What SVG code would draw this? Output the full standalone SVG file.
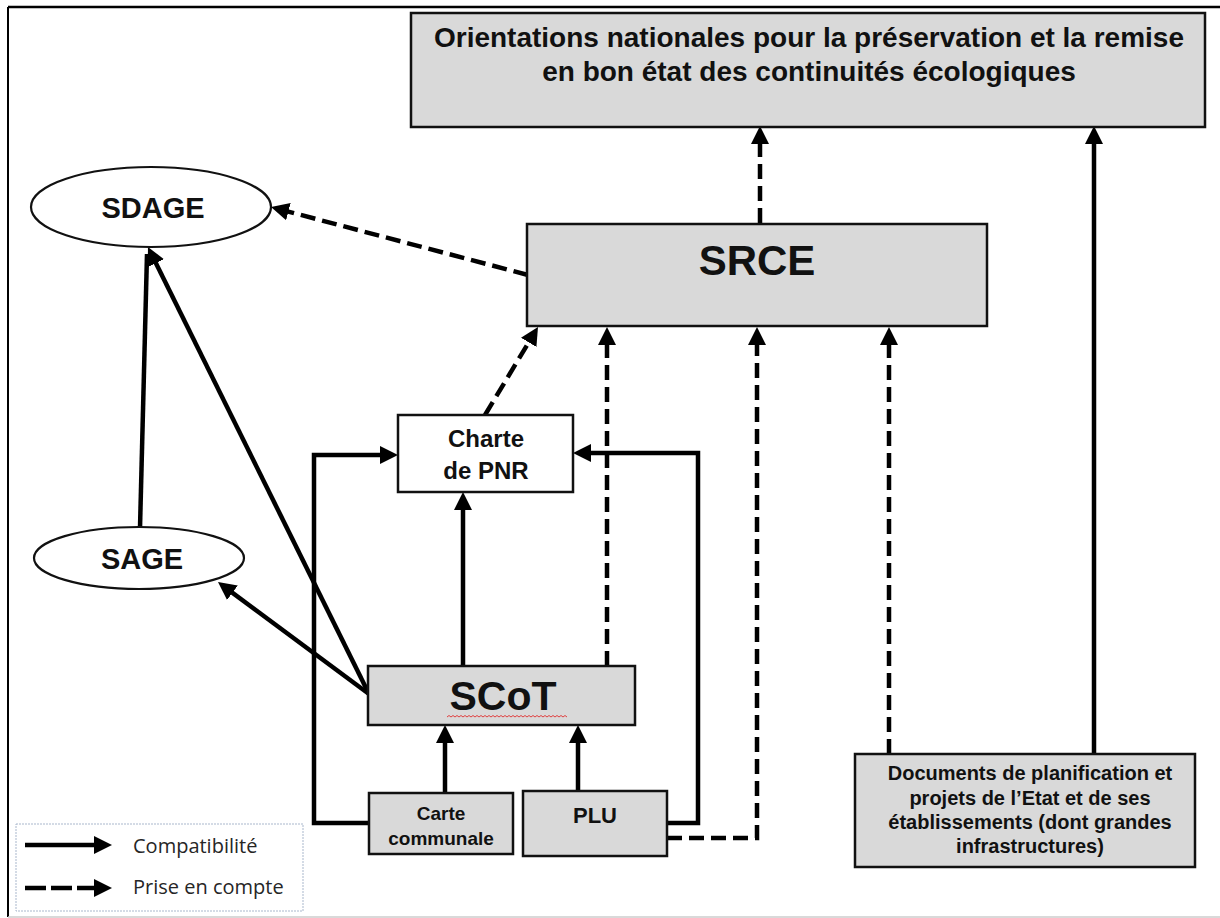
<svg xmlns="http://www.w3.org/2000/svg" width="1220" height="918" viewBox="0 0 1220 918">
<style>
.box{fill:#d9d9d9;stroke:#111;stroke-width:2.5}
.wbox{fill:#fff;stroke:#111;stroke-width:2.5}
.ell{fill:#fff;stroke:#111;stroke-width:2.2}
.t{font-family:"Liberation Sans",Arial,sans-serif;font-weight:bold;fill:#111;text-anchor:middle}
.leg{font-family:"Open Sans","Liberation Sans",sans-serif;font-size:20px;fill:#262626}
.solid{fill:none;stroke:#000;stroke-width:4.5;marker-end:url(#ah)}
.dash{fill:none;stroke:#000;stroke-width:4.5;stroke-dasharray:15 7;marker-end:url(#ah)}
.plain{fill:none;stroke:#000;stroke-width:4.5}
</style>
<defs>
<marker id="ah" markerUnits="userSpaceOnUse" markerWidth="20" markerHeight="20" viewBox="0 0 20 20" refX="12" refY="10" orient="auto">
<path d="M0,1 L18,10 L0,19 z" fill="#000"/>
</marker>
</defs>
<rect width="1220" height="918" fill="#fff"/>
<g id="frame">
<line x1="8" y1="7" x2="1220" y2="7" stroke="#000" stroke-width="2.5"/>
<line x1="8" y1="7" x2="8" y2="917" stroke="#000" stroke-width="2"/>
<line x1="8" y1="917" x2="1220" y2="917" stroke="#ccc" stroke-width="1.5"/>
</g>
<g id="connectors">
<path class="dash" d="M760,223 V132"/>
<path class="solid" d="M1094,754 V132"/>
<path class="dash" d="M528,275 L276.8,208.6"/>
<path class="dash" d="M485,415 L534.9,332.1"/>
<path class="dash" d="M607,666 V333"/>
<path class="dash" d="M667,838 H757 V333"/>
<path class="dash" d="M889,754 V333"/>
<path class="solid" d="M463,666 V498"/>
<path class="solid" d="M369,823 H314 V455 H392"/>
<path class="solid" d="M667,823 H698 V453 H579"/>
<path class="solid" d="M445,793 V731"/>
<path class="solid" d="M578,791 V731"/>
<path class="solid" d="M369,694 L150.6,252.4"/>
<path class="solid" d="M369,694 L222.8,585.6"/>
<path class="plain" d="M140,528 L147,254"/>
</g>
<g id="orientations">
<rect class="box" x="411" y="13" width="794" height="114"/>
<text class="t" x="809" y="47" font-size="28">Orientations nationales pour la préservation et la remise</text>
<text class="t" x="809" y="81" font-size="28">en bon état des continuités écologiques</text>
</g>
<g id="srce">
<rect class="box" x="527" y="224" width="460" height="102"/>
<text class="t" x="757" y="275" font-size="42">SRCE</text>
</g>
<g id="sdage">
<ellipse class="ell" cx="151" cy="207" rx="120" ry="40"/>
<text class="t" x="153" y="218" font-size="29">SDAGE</text>
</g>
<g id="sage">
<ellipse class="ell" cx="139" cy="558" rx="105" ry="31"/>
<text class="t" x="142" y="569" font-size="29">SAGE</text>
</g>
<g id="charte">
<rect class="wbox" x="398" y="415" width="175" height="77"/>
<text class="t" x="486" y="447" font-size="24">Charte</text>
<text class="t" x="486" y="479" font-size="24">de PNR</text>
</g>
<g id="scot">
<rect class="box" x="368" y="666" width="267" height="59"/>
<text class="t" x="503" y="710" font-size="41">SCoT</text>
<path d="M447,717 l2,-1.5 l2,1.5 l2,-1.5 l2,1.5 l2,-1.5 l2,1.5 l2,-1.5 l2,1.5 l2,-1.5 l2,1.5 l2,-1.5 l2,1.5 l2,-1.5 l2,1.5 l2,-1.5 l2,1.5 l2,-1.5 l2,1.5 l2,-1.5 l2,1.5 l2,-1.5 l2,1.5 l2,-1.5 l2,1.5 l2,-1.5 l2,1.5 l2,-1.5 l2,1.5 l2,-1.5 l2,1.5 l2,-1.5 l2,1.5 l2,-1.5 l2,1.5 l2,-1.5 l2,1.5 l2,-1.5 l2,1.5 l2,-1.5 l2,1.5 l2,-1.5 l2,1.5 l2,-1.5 l2,1.5 l2,-1.5 l2,1.5 l2,-1.5 l2,1.5 l2,-1.5 l2,1.5 l2,-1.5 l2,1.5 l2,-1.5 l2,1.5 l2,-1.5 l2,1.5 l2,-1.5 l2,1.5 l2,-1.5 l2,1.5" fill="none" stroke="#e04040" stroke-width="1"/>
</g>
<g id="carte">
<rect class="box" x="369" y="793" width="144" height="61"/>
<text class="t" x="441" y="820" font-size="19">Carte</text>
<text class="t" x="441" y="845" font-size="19">communale</text>
</g>
<g id="plu">
<rect class="box" x="523" y="791" width="144" height="65"/>
<text class="t" x="595" y="823" font-size="22">PLU</text>
</g>
<g id="documents">
<rect class="box" x="855" y="754" width="340" height="113"/>
<text class="t" x="1030" y="780" font-size="20">Documents de planification et</text>
<text class="t" x="1030" y="805" font-size="20">projets de l’Etat et de ses</text>
<text class="t" x="1030" y="829" font-size="20">établissements (dont grandes</text>
<text class="t" x="1030" y="853" font-size="20">infrastructures)</text>
</g>
<g id="legend">
<rect x="16" y="824" width="287" height="87" fill="#fff" stroke="#a9b7cc" stroke-width="1" stroke-dasharray="2 1"/>
<path class="solid" d="M25,845 H106"/>
<path class="dash" d="M25,888 H106" style="stroke-dasharray:21 5"/>
<text class="leg" x="133" y="853">Compatibilité</text>
<text class="leg" x="133" y="894">Prise en compte</text>
</g>
</svg>
